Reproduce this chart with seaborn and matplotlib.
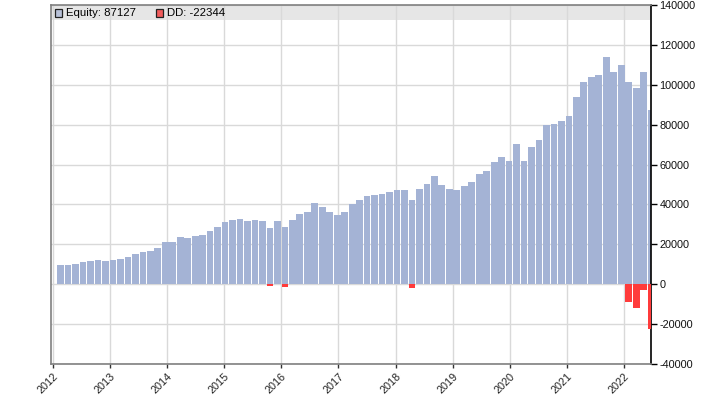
import numpy as np
import pandas as pd
import matplotlib
matplotlib.use("Agg")
import matplotlib.pyplot as plt
from matplotlib.patches import Rectangle
from matplotlib.ticker import FuncFormatter
import seaborn as sns

# ---- data -------------------------------------------------------------
first_period = 2012.134      # decimal year of the first sample
period_years = 0.1309        # spacing between samples (years)

equity = [9650, 9650, 10150, 11150, 11650, 12150, 11650, 12150, 12650, 13650,
          15150, 16150, 16650, 18150, 21150, 21150, 23650, 23150, 24150, 24650,
          26650, 28650, 31150, 32150, 32650, 31650, 32150, 31650, 28150, 31650,
          28650, 32150, 35150, 36150, 40650, 38650, 36150, 34650, 36150, 40150,
          42150, 44150, 44650, 45150, 46150, 47150, 47150, 42150, 47650, 50150,
          54150, 49650, 47650, 47150, 49150, 51150, 55150, 56650, 61150, 63650,
          61650, 70150, 61650, 68650, 72150, 79650, 80150, 81650, 84150, 93650,
          101150, 104150, 105150, 114150, 106650, 110150, 101150, 98150, 106650, 87127]

drawdown = [-60, -60, 0, 0, 0, 0, 0, 0, 0, 0,
            0, 0, 0, 0, 0, 0, 0, 0, 0, 0,
            0, 0, 0, 0, 0, 0, 0, 0, -850, 0,
            -1350, 0, 0, 0, 0, 0, 0, 0, 0, 0,
            0, 0, 0, 0, 0, 0, 0, -1850, 0, 0,
            0, 0, 0, 0, 0, 0, 0, 0, 0, 0,
            0, 0, 0, 0, 0, 0, 0, 0, 0, 0,
            0, 0, 0, 0, 0, 0, -8850, -11850, -2850, -22344]

years = list(range(2012, 2023))
y_ticks = list(range(-40000, 140001, 20000))
legend_labels = ["Equity: 87127", "DD: -22344"]

# ---- build frame ------------------------------------------------------
xpos = [round(first_period + i * period_years, 4) for i in range(len(equity))]
df = pd.DataFrame({"t": xpos, "equity": equity, "dd": drawdown})

sns.set_style("white")
plt.rcParams["font.family"] = ["Liberation Sans", "DejaVu Sans"]

fig = plt.figure(figsize=(7.01, 4.05), dpi=100)
W, H = 701, 405
ax = fig.add_axes([51 / W, 1 - 364 / H, 600 / W, 359 / H])

eq_color = "#a4b3d5"
dd_color = "#ff3b3b"

sns.barplot(data=df, x="t", y="equity", native_scale=True, orient="x",
            width=0.9, color=eq_color, saturation=1, linewidth=0,
            errorbar=None, ax=ax, zorder=2)
sns.barplot(data=df, x="t", y="dd", native_scale=True, orient="x",
            width=0.9, color=dd_color, saturation=1, linewidth=0,
            errorbar=None, ax=ax, zorder=3)

ax.set_xlim(2011.965, 2022.473)
ax.set_ylim(-40000, 140000)

# grid
ax.set_axisbelow(True)
ax.grid(True, color="#d9d9d9", linewidth=1.0)

# header band
ax.add_patch(Rectangle((0, 1 - 15 / 359), 1, 15 / 359, transform=ax.transAxes,
                       facecolor="#e6e6e6", edgecolor="none", zorder=0.3))

# axes cosmetics
ax.yaxis.tick_right()
ax.yaxis.set_label_position("right")
ax.set_yticks(y_ticks)
ax.yaxis.set_major_formatter(FuncFormatter(lambda v, p: f"{int(v)}"))
ax.set_xticks(years)
ax.set_xticklabels([str(y) for y in years], rotation=45, ha="right",
                   rotation_mode="anchor")
ax.set_xlabel("")
ax.set_ylabel("")
ax.tick_params(axis="y", which="both", right=True, left=False, length=4,
               width=1, color="black", labelsize=7.8, labelcolor="#111111", pad=2)
ax.tick_params(axis="x", bottom=True, length=3, width=1, color="#333333",
               labelsize=7.8, labelcolor="#222222", pad=2)

for side in ["left", "top", "bottom"]:
    ax.spines[side].set_visible(True)
    ax.spines[side].set_color("#808080")
    ax.spines[side].set_linewidth(1.2)
ax.spines["right"].set_visible(True)
ax.spines["right"].set_color("black")
ax.spines["right"].set_linewidth(1.2)

# legend in header band
sq_w, sq_h = 7 / 600, 7 / 359
yc = 1 - 8 / 359
ax.add_patch(Rectangle((4 / 600, yc - sq_h / 2), sq_w, sq_h, transform=ax.transAxes,
                       facecolor="#b8c1d8", edgecolor="#222222", linewidth=0.9,
                       zorder=5, clip_on=False))
ax.text(15 / 600, yc, legend_labels[0], transform=ax.transAxes, fontsize=8.2,
        va="center", ha="left", color="black", zorder=5)
ax.add_patch(Rectangle((105 / 600, yc - sq_h / 2), sq_w, sq_h, transform=ax.transAxes,
                       facecolor="#f25c5c", edgecolor="#222222", linewidth=0.9,
                       zorder=5, clip_on=False))
ax.text(116 / 600, yc, legend_labels[1], transform=ax.transAxes, fontsize=8.2,
        va="center", ha="left", color="black", zorder=5)

fig.savefig("out.png", dpi=100)
